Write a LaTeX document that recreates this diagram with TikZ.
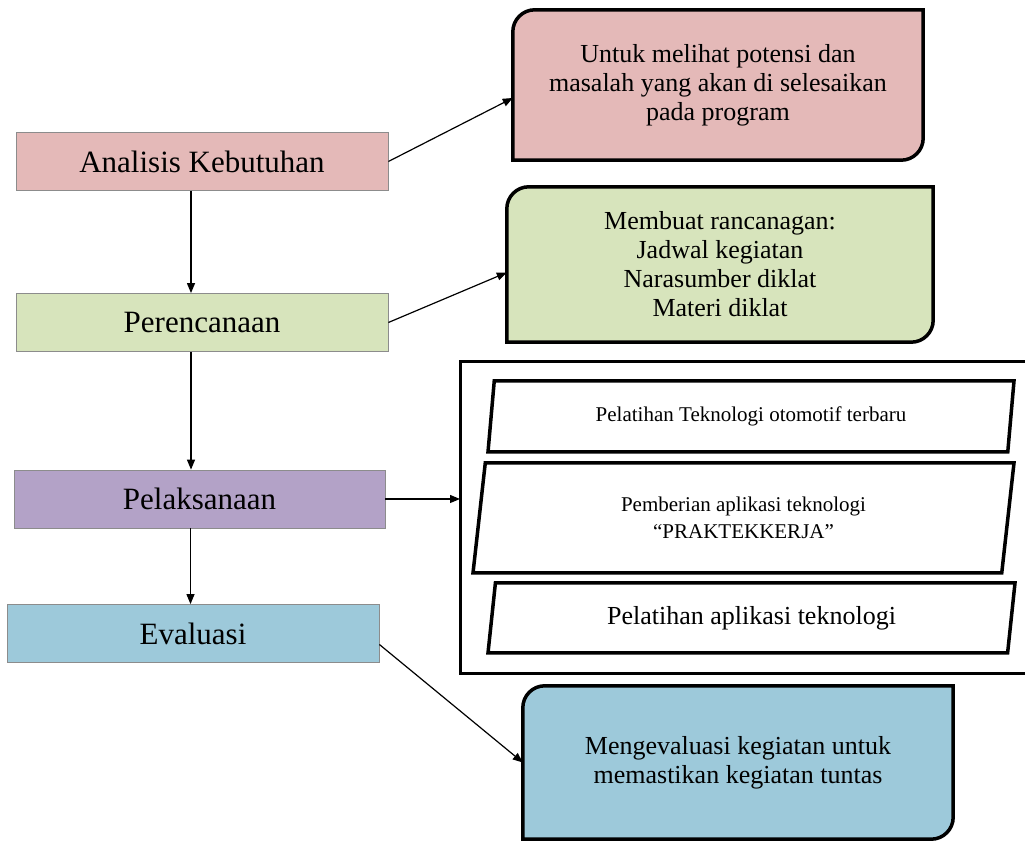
\documentclass[tikz,border=0pt]{standalone}
\usepackage{fontspec}
\setmainfont{Liberation Serif}
\usetikzlibrary{arrows.meta, shapes.geometric, backgrounds}
\definecolor{pinkfill}{HTML}{E4B9B8}
\definecolor{greenfill}{HTML}{D7E4BC}
\definecolor{purplefill}{HTML}{B3A2C7}
\definecolor{bluefill}{HTML}{9DC9DA}

% frame with rounded top-left and bottom-right corners
\newcommand{\cornerbox}[2]{%
  \path[draw, line width=3.5pt, fill=#2] (#1.south west)
    -- ([yshift=-22pt]#1.north west) arc[start angle=180, end angle=90, radius=22pt]
    -- (#1.north east) -- ([yshift=22pt]#1.south east)
    arc[start angle=0, end angle=-90, radius=22pt] -- cycle;}

\begin{document}
\begin{tikzpicture}[x=1pt, y=1pt, >={Triangle[length=10pt, width=8pt]},
    stage/.style={draw=black!45, line width=0.8pt, minimum width=372pt, minimum height=58pt,
      inner sep=0pt, font=\fontsize{31}{36}\selectfont},
    note/.style={align=center, inner sep=0pt, font=\fontsize{26}{29}\selectfont},
    task/.style={trapezium, trapezium left angle=75, trapezium right angle=105,
      trapezium stretches body, draw, line width=3.5pt, align=center, inner sep=2pt},
    link/.style={->, line width=1.2pt}]
  \useasboundingbox (0,0) rectangle (1025,841);
  % ---- left column: the stages ----
  \node[stage, fill=pinkfill]   (ana) at (202,679.5) {Analisis Kebutuhan};
  \node[stage, fill=greenfill]  (per) at (202,518.5) {Perencanaan};
  \node[stage, fill=purplefill, minimum width=371pt] (pel) at (199.5,342) {Pelaksanaan};
  \node[stage, fill=bluefill]   (eva) at (193,207.5) {Evaluasi};
  % ---- right column: notes ----
  \node[note, minimum width=410pt, minimum height=150pt] (pot) at (718,756)
    {Untuk melihat potensi dan\\masalah yang akan di selesaikan\\pada program};
  \node[note, minimum width=426pt, minimum height=155pt] (ren) at (720,576.5)
    {Membuat rancanagan:\\Jadwal kegiatan\\Narasumber diklat\\Materi diklat};
  \node[note, minimum width=430pt, minimum height=153pt] (tun) at (738,78.5)
    {Mengevaluasi kegiatan untuk\\memastikan kegiatan tuntas};
  % ---- activities of Pelaksanaan ----
  \coordinate (grpnw) at (460,479);
  \coordinate (grpse) at (1025,168);
  \node[task, minimum width=526pt, minimum height=71pt, font=\fontsize{21}{27}\selectfont]
    (t1) at (751,424.5) {Pelatihan Teknologi otomotif terbaru};
  \node[task, minimum width=541pt, minimum height=110pt, font=\fontsize{21}{27}\selectfont]
    (t2) at (743.5,323) {Pemberian aplikasi teknologi\\“PRAKTEKKERJA”};
  \node[task, minimum width=527pt, minimum height=70pt, font=\fontsize{26}{29}\selectfont]
    (t3) at (751.5,223) {Pelatihan aplikasi teknologi};
  \draw[line width=3pt] (grpse |- grpnw) -- (grpnw) -- (grpnw |- grpse) -- (grpse);
  \begin{scope}[on background layer]
    \cornerbox{pot}{pinkfill}
    \cornerbox{ren}{greenfill}
    \cornerbox{tun}{bluefill}
  \end{scope}
  % ---- connectors ----
  \draw[link] ([xshift=-11pt]ana.south) -- ([xshift=-11pt]per.north);
  \draw[link] ([xshift=-11pt]per.south) -- ([xshift=-11pt]per.south |- pel.north);
  \draw[link] ([xshift=-9pt]pel.south) -- ([xshift=-9pt]pel.south |- eva.north);
  \draw[link] (ana.east) -- ([yshift=-13pt]pot.west);
  \draw[link] (per.east) -- ([yshift=-8pt]ren.west);
  \draw[link] (pel.east) -- (pel.east -| grpnw);
  \draw[link] ([yshift=-11pt]eva.east) -- (tun.west);
\end{tikzpicture}
\end{document}
